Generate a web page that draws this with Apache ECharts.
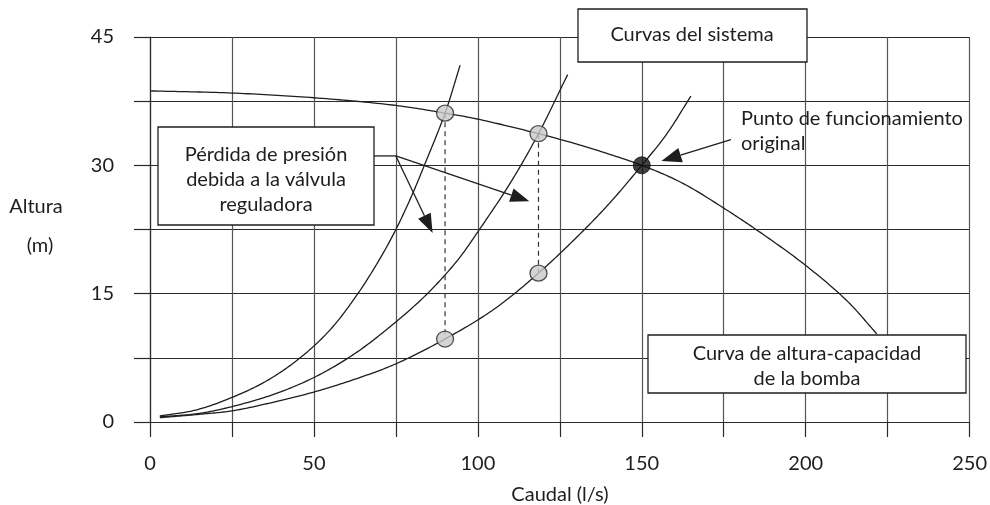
<!DOCTYPE html>
<html>
<head>
<meta charset="utf-8">
<script src="https://cdn.jsdelivr.net/npm/echarts@6/dist/echarts.min.js"></script>
<style>
  html, body { margin: 0; padding: 0; background: #fff; }
  #chart { width: 990px; height: 505px; }
</style>
</head>
<body>
<div id="chart"></div>
<script>
// Pump head-capacity curve: [caudal l/s, altura m]
const pumpCurve = [
  [0, 38.7], [25, 38.45], [50, 37.9], [75, 37.0], [90, 36.1], [100, 35.4],
  [118.5, 33.7], [130, 32.5], [150, 30.0], [162.5, 27.9], [175, 25.0],
  [187.5, 21.8], [200, 18.3], [212.5, 14.2], [221.7, 10.3]
];
// System curves (steepest = most throttled valve)
const systemCurveA = [
  [3, 0.7], [14, 1.4], [25.6, 2.96], [36, 4.9], [46, 7.56], [55, 10.8], [63.4, 15.0],
  [70, 19.0], [75, 22.5], [80, 26.6], [84, 30.3], [90, 36.1], [94.6, 41.7]
];
const systemCurveB = [
  [3, 0.6], [15, 1.0], [25, 1.8], [37.5, 3.2], [50, 5.2], [62.5, 8.0], [75, 11.7],
  [84.6, 15.0], [93.8, 18.9], [100.3, 22.4], [110, 28.0], [118.5, 33.7], [127.4, 40.6]
];
const systemCurveC = [
  [3, 0.5], [15, 0.9], [25, 1.3], [37.5, 2.3], [50, 3.5], [62.5, 5.0], [75, 6.8],
  [90, 9.7], [105, 13.2], [118.5, 17.4], [130.7, 21.8], [140, 25.5], [150, 30.0],
  [157.5, 33.6], [165, 38.1]
];
// Throttled operating points on the pump curve and matching points on the original system curve
const throttledPoints = [[90, 36.1], [118.5, 33.7]];
const originalCurvePoints = [[90, 9.7], [118.5, 17.4]];
const operatingPoint = [[150, 30.0]];

// Annotation leader lines (data units)
const valveLeaderJoint = [75, 31.1];
const valveLeaderTips = [[86.2, 22.1], [115.7, 25.8]];
const operatingLeader = [[177.2, 33.0], [156, 30.5]];

// Axis tick values
const xTickStep = 25, xLabelStep = 50;
const yTickStep = 7.5, yLabelStep = 15;

const FONT = 'Lato';
const INK = '#1e1e1e';
const FS = 20;

const chart = echarts.init(document.getElementById('chart'), null, { renderer: 'canvas' });

// Centripetal Catmull-Rom through pixel points, sampled densely
function catmullRom(pts, steps) {
  if (pts.length < 3) return pts;
  const ext = [
    [2 * pts[0][0] - pts[1][0], 2 * pts[0][1] - pts[1][1]],
    ...pts,
    [2 * pts[pts.length - 1][0] - pts[pts.length - 2][0], 2 * pts[pts.length - 1][1] - pts[pts.length - 2][1]]
  ];
  const out = [pts[0]];
  const td = (a, b) => Math.pow(Math.hypot(b[0] - a[0], b[1] - a[1]), 0.5) || 1e-6;
  const lerp = (a, b, ta, tb, t) => {
    const w = (t - ta) / (tb - ta);
    return [a[0] + (b[0] - a[0]) * w, a[1] + (b[1] - a[1]) * w];
  };
  for (let i = 1; i < ext.length - 2; i++) {
    const p0 = ext[i - 1], p1 = ext[i], p2 = ext[i + 1], p3 = ext[i + 2];
    const t0 = 0, t1 = t0 + td(p0, p1), t2 = t1 + td(p1, p2), t3 = t2 + td(p2, p3);
    for (let s = 1; s <= steps; s++) {
      const t = t1 + (t2 - t1) * s / steps;
      const a1 = lerp(p0, p1, t0, t1, t), a2 = lerp(p1, p2, t1, t2, t), a3 = lerp(p2, p3, t2, t3, t);
      const b1 = lerp(a1, a2, t0, t2, t), b2 = lerp(a2, a3, t1, t3, t);
      out.push(lerp(b1, b2, t1, t2, t));
    }
  }
  return out;
}

function curve(name, data) {
  return {
    name, type: 'custom', coordinateSystem: 'cartesian2d', data, z: 3, silent: true,
    encode: { x: 0, y: 1 },
    renderItem(params, api) {
      if (params.dataIndex !== 0) return null;
      const pts = data.map(d => api.coord(d));
      return {
        type: 'polyline',
        shape: { points: catmullRom(pts, 20) },
        style: { stroke: INK, lineWidth: 1.3, fill: null }
      };
    }
  };
}

const drops = throttledPoints.map((p, i) => ({
  type: 'line', data: [p, originalCurvePoints[i]], showSymbol: false, symbol: 'none',
  lineStyle: { color: '#333', width: 1.2, type: [5, 4] }, z: 4, silent: true
}));

chart.setOption({
  animation: false,
  backgroundColor: '#fff',
  grid: { left: 150, right: 17, top: 37, bottom: 83, containLabel: false },
  xAxis: {
    type: 'value', min: 0, max: 250, interval: xTickStep,
    axisLine: { show: true, lineStyle: { color: '#2a2a2a', width: 1.2 } },
    axisTick: { show: true, inside: false, length: 15, lineStyle: { color: '#2a2a2a', width: 1.2 } },
    splitLine: { show: true, showMinLine: true, showMaxLine: true, lineStyle: { color: '#555', width: 1.2 } },
    axisLabel: {
      margin: 32, color: INK, fontFamily: FONT, fontSize: FS,
      formatter: v => (v % xLabelStep === 0 ? String(v) : '')
    }
  },
  yAxis: {
    type: 'value', min: 0, max: 45, interval: yTickStep,
    axisLine: { show: true, lineStyle: { color: '#2a2a2a', width: 1.2 } },
    axisTick: { show: true, inside: false, length: 16, lineStyle: { color: '#2a2a2a', width: 1.2 } },
    splitLine: { show: true, showMinLine: true, showMaxLine: true, lineStyle: { color: '#2a2a2a', width: 1.2 } },
    axisLabel: {
      margin: 36, color: INK, fontFamily: FONT, fontSize: FS,
      formatter: v => (Math.abs(v % yLabelStep) < 1e-9 ? String(v) : '')
    }
  },
  series: [
    curve('Curva de altura-capacidad de la bomba', pumpCurve),
    curve('Sistema A', systemCurveA),
    curve('Sistema B', systemCurveB),
    curve('Sistema C', systemCurveC),
    ...drops,
    {
      type: 'scatter', data: throttledPoints.concat(originalCurvePoints),
      symbol: 'circle', symbolSize: [17, 16], z: 6, silent: true,
      itemStyle: { color: '#c9c9c9', borderColor: '#2a2a2a', borderWidth: 1.3 }
    },
    {
      type: 'scatter', data: operatingPoint, symbol: 'circle', symbolSize: 17, z: 6, silent: true,
      itemStyle: { color: '#111', borderColor: '#111', borderWidth: 1 }
    }
  ]
});

// ---- annotations: boxes, labels and arrows drawn on top of the plot ----
const px = p => chart.convertToPixel({ gridIndex: 0 }, p);

function arrow(from, to, headLen = 19, halfW = 7) {
  const dx = to[0] - from[0], dy = to[1] - from[1];
  const len = Math.hypot(dx, dy), ux = dx / len, uy = dy / len;
  const bx = to[0] - ux * headLen, by = to[1] - uy * headLen;
  return [
    { type: 'line', z: 120, shape: { x1: from[0], y1: from[1], x2: bx, y2: by },
      style: { stroke: INK, lineWidth: 1.3 } },
    { type: 'polygon', z: 120,
      shape: { points: [to, [bx - uy * halfW, by + ux * halfW], [bx + uy * halfW, by - ux * halfW]] },
      style: { fill: INK } }
  ];
}

function box(x, y, w, h) {
  return { type: 'rect', z: 110, shape: { x, y, width: w, height: h },
    style: { fill: '#fff', stroke: INK, lineWidth: 1.3 } };
}
function label(text, x, y, align = 'center') {
  return { type: 'text', z: 130, x, y,
    style: { text, fill: INK, font: `${FS}px ${FONT}`, align, verticalAlign: 'middle', lineHeight: 25 } };
}

const joint = px(valveLeaderJoint);
const valveBoxRight = 374;
const elements = [
  // y axis title
  label('Altura', 36, 207),
  label('(m)', 40, 246),
  // x axis title
  label('Caudal (l/s)', 560, 495),
  // system curves caption
  box(578, 9, 229, 53),
  label('Curvas del sistema', 692, 35),
  // valve loss caption
  box(158, 127, 216, 98),
  label('Pérdida de presión\ndebida a la válvula\nreguladora', 266, 180),
  { type: 'line', z: 120, shape: { x1: valveBoxRight, y1: joint[1], x2: joint[0], y2: joint[1] },
    style: { stroke: INK, lineWidth: 1.3 } },
  ...valveLeaderTips.flatMap(t => arrow(joint, px(t))),
  // original operating point
  label('Punto de funcionamiento\noriginal', 741, 131, 'left'),
  ...arrow(px(operatingLeader[0]), px(operatingLeader[1]), 20, 7.5),
  // pump curve caption
  box(648, 335, 318, 58),
  label('Curva de altura-capacidad\nde la bomba', 807, 366)
];

chart.setOption({ graphic: { elements } });
</script>
</body>
</html>
